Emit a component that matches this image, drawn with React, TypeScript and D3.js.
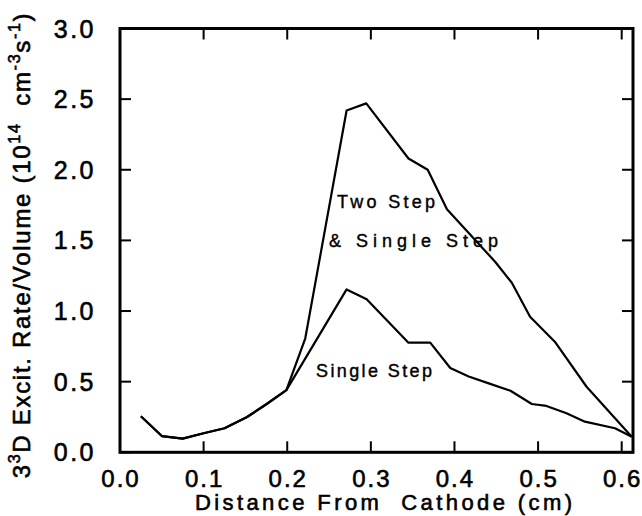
import React from "react";
import * as d3 from "d3";

// Single Step curve
const singleX = [0.025, 0.05, 0.075, 0.1, 0.125, 0.152, 0.175, 0.199, 0.271, 0.295, 0.345, 0.371, 0.395, 0.417, 0.441, 0.467, 0.4925, 0.51, 0.534, 0.556, 0.592, 0.612];
const singleY = [0.255, 0.115, 0.097, 0.135, 0.17, 0.25, 0.34, 0.44, 1.153, 1.083, 0.776, 0.776, 0.597, 0.537, 0.488, 0.436, 0.342, 0.328, 0.276, 0.217, 0.17, 0.11];

// Two Step & Single Step curve
const twoX = [0.025, 0.05, 0.075, 0.1, 0.125, 0.152, 0.175, 0.199, 0.2216, 0.271, 0.2945, 0.345, 0.368, 0.391, 0.4486, 0.4686, 0.4904, 0.52, 0.558, 0.612];
const twoY = [0.255, 0.115, 0.097, 0.135, 0.17, 0.25, 0.34, 0.44, 0.807, 2.42, 2.47, 2.08, 2.0, 1.72, 1.349, 1.2, 0.96, 0.783, 0.464, 0.11];

const xTicks = [0, 0.1, 0.2, 0.3, 0.4, 0.5, 0.6];
const xTickLabels = ["0.0", "0.1", "0.2", "0.3", "0.4", "0.5", "0.6"];
const yTicks = [0, 0.5, 1.0, 1.5, 2.0, 2.5, 3.0];
const yTickLabels = ["0.0", "0.5", "1.0", "1.5", "2.0", "2.5", "3.0"];

const xTitle = "Distance From  Cathode (cm)";
const curveLabels = ["Two Step", "& Single Step", "Single Step"];

const FONT = "'Liberation Sans', Arial, Helvetica, sans-serif";

export default function App() {
  const left = 120, right = 633, top = 28.5, bottom = 452.3;
  const x = d3.scaleLinear().domain([0, 0.6]).range([left, 621.7]);
  const y = d3.scaleLinear().domain([0, 3]).range([bottom, top]);
  const line = d3.line<[number, number]>().x(d => x(d[0])).y(d => y(d[1]));
  const singlePts = singleX.map((v, i) => [v, singleY[i]] as [number, number]);
  const twoPts = twoX.map((v, i) => [v, twoY[i]] as [number, number]);
  const tickLen = 11;
  const textStroke = { stroke: "#000", strokeWidth: 0.6 };

  return (
    <svg width={642} height={516} style={{ position: "absolute", left: 0, top: 0, background: "#fff" }} fontFamily={FONT}>
      <rect x={0} y={0} width={642} height={516} fill="#fff" />
      {/* frame */}
      <rect x={left} y={top} width={right - left} height={bottom - top} fill="none" stroke="#000" strokeWidth={3} />
      {/* x ticks bottom & top */}
      {xTicks.map((t, i) => (
        <g key={"xt" + i}>
          <line x1={x(t)} x2={x(t)} y1={bottom} y2={bottom - tickLen} stroke="#000" strokeWidth={2} />
          <line x1={x(t)} x2={x(t)} y1={top} y2={top + tickLen} stroke="#000" strokeWidth={2} />
          <text x={x(t) + 1} y={487} textAnchor="middle" fontSize={24} letterSpacing={2} {...textStroke}>{xTickLabels[i]}</text>
        </g>
      ))}
      {yTicks.map((t, i) => (
        <g key={"yt" + i}>
          <line x1={left} x2={left + tickLen} y1={y(t)} y2={y(t)} stroke="#000" strokeWidth={2} />
          <line x1={right} x2={right - tickLen} y1={y(t)} y2={y(t)} stroke="#000" strokeWidth={2} />
          <text x={96} y={y(t) + 9} textAnchor="end" fontSize={25} letterSpacing={2.5} {...textStroke}>{yTickLabels[i]}</text>
        </g>
      ))}
      {/* data */}
      <path d={line(twoPts) || ""} fill="none" stroke="#000" strokeWidth={2.2} strokeLinejoin="round" />
      <path d={line(singlePts) || ""} fill="none" stroke="#000" strokeWidth={2.2} strokeLinejoin="round" />
      {/* curve labels */}
      <text x={337} y={208} fontSize={18} textLength={98} lengthAdjust="spacing" {...textStroke} strokeWidth={0.4}>{curveLabels[0]}</text>
      <text x={329} y={247} fontSize={18} textLength={169} lengthAdjust="spacing" {...textStroke} strokeWidth={0.4}>{curveLabels[1]}</text>
      <text x={316} y={377} fontSize={18} textLength={116} lengthAdjust="spacing" {...textStroke} strokeWidth={0.4}>{curveLabels[2]}</text>
      {/* x title */}
      <text x={195} y={510} fontSize={22} textLength={377} lengthAdjust="spacing" style={{ whiteSpace: "pre" }} {...textStroke}>{xTitle}</text>
      {/* y title */}
      <text transform="translate(30,245) rotate(-90)" textAnchor="middle" fontSize={24} letterSpacing={1.7} {...textStroke} style={{ whiteSpace: "pre" }}>
        <tspan>3</tspan>
        <tspan fontSize={16} dy={-10}>3</tspan>
        <tspan dy={10}>D Excit. Rate/Volume (10</tspan>
        <tspan fontSize={16} dy={-10}>14</tspan>
        <tspan dy={10}>{"  cm"}</tspan>
        <tspan fontSize={16} dy={-10}>-3</tspan>
        <tspan dy={10}>s</tspan>
        <tspan fontSize={16} dy={-10}>-1</tspan>
        <tspan dy={10}>)</tspan>
      </text>
    </svg>
  );
}
